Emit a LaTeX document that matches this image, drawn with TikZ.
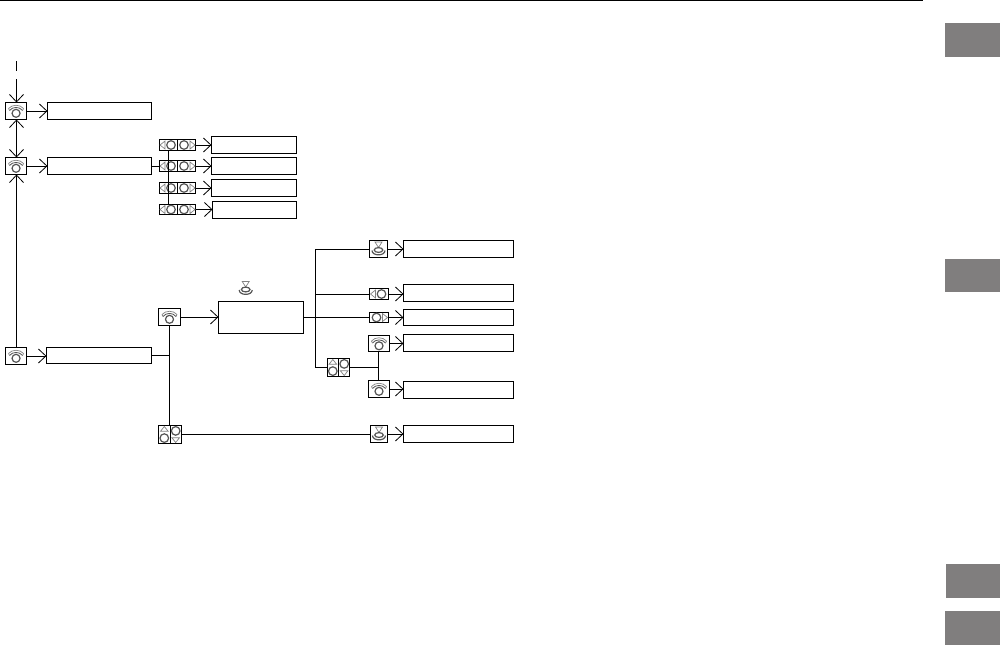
\documentclass[tikz,border=0pt]{standalone}
\usetikzlibrary{arrows.meta,calc}
\definecolor{tabgray}{RGB}{128,126,126}
\definecolor{glyph}{RGB}{85,85,85}
\definecolor{soft}{RGB}{130,130,130}
\tikzset{
  conn/.style={line width=1pt,black},
  arr/.style={conn,-{Straight Barb[length=7.5pt,width=14pt,line width=0.8pt]}},
  darr/.style={conn,{Straight Barb[length=7.5pt,width=14pt,line width=0.8pt]}-{Straight Barb[length=7.5pt,width=14pt,line width=0.8pt]}},
  lbl/.style={draw=black,line width=1pt,fill=white,inner sep=0pt,outer sep=0pt},
  iconbox/.style={draw=black,line width=1pt,fill=white,inner sep=0pt,outer sep=0pt},
  knobfree/.style={inner sep=0pt,outer sep=0pt},
  tab/.style={fill=tabgray,draw=none,inner sep=0pt,outer sep=0pt},
  gl/.style={draw=glyph,line width=1.2pt},
  gs/.style={draw=soft,line width=0.7pt}
}
% box from x0,y0 to x1,y1 (pixel coordinates)
\newcommand{\rbox}[6][lbl]{\node[#1,minimum width={(#5-#3)*1pt},minimum height={(#6-#4)*1pt}] (#2) at ({(#3+#5)/2},{(#4+#6)/2}) {};}
\newcommand{\gphone}[1]{\begin{scope}[shift={(#1.center)}]
  \draw[gl] (0,2.3) circle (4);
  \draw[gs] (-7.5,-2.5) .. controls (-4,-6.8) and (4,-6.8) .. (7.5,-2.5);
  \draw[gl,line width=0.8pt] (-6.5,-0.5) .. controls (-3.5,-4.6) and (3.5,-4.6) .. (6.5,-0.5);
  \draw[gs] (-7.5,-2.5) -- (-6.5,-0.5) (7.5,-2.5) -- (6.5,-0.5);
\end{scope}}
\newcommand{\gknob}[1]{\begin{scope}[shift={(#1.center)}]
  \draw[gs] (-3.5,-7) -- (3.5,-7) -- (0,-1.5) -- cycle;
  \draw[gl] (0,1) ellipse (4.3 and 2.4);
  \draw[gl] (-6.5,1.5) .. controls (-6.5,7.3) and (6.5,7.3) .. (6.5,1.5);
\end{scope}}
\newcommand{\gleft}[2]{\begin{scope}[shift={(#1.center)},xshift=#2 pt]
  \draw[gs] (-8.5,0) -- (-3.5,-4) -- (-3.5,4) -- cycle;
  \draw[gl] (2.5,0) circle (4.3);
\end{scope}}
\newcommand{\gright}[2]{\begin{scope}[shift={(#1.center)},xshift=#2 pt]
  \draw[gs] (8.5,0) -- (3.5,-4) -- (3.5,4) -- cycle;
  \draw[gl] (-2.5,0) circle (4.3);
\end{scope}}
\newcommand{\gupdown}[1]{\begin{scope}[shift={(#1.center)}]
  \draw[line width=1pt] (0,-9) -- (0,9);
  \draw[gs] (-9.5,-3.2) -- (-1.8,-3.2) -- (-5.7,-8) -- cycle;
  \draw[gl] (-5.7,3.6) circle (4.3);
  \draw[gs] (9.5,3.2) -- (1.8,3.2) -- (5.7,8) -- cycle;
  \draw[gl] (5.7,-3.6) circle (4.3);
\end{scope}}
\newcommand{\lrpair}[5]{\rbox[iconbox]{#1}{#2}{#3}{#4}{#5}
  \gleft{#1}{-9}\gright{#1}{9}\draw[line width=1pt] (#1.north) -- (#1.south);}
\begin{document}
\begin{tikzpicture}[x=1pt,y=-1pt]
\useasboundingbox (0,0) rectangle (1000,645);
% page furniture
\coordinate (ruleL) at (0,0.6);
\coordinate (ruleR) at (923,0.6);
\draw[line width=1.1pt] (ruleL) -- (ruleR);
\rbox[tab]{tabA}{945}{23}{1000}{57}
\rbox[tab]{tabB}{945}{258.5}{1000}{292}
\rbox[tab]{tabC}{945.5}{563.5}{1000}{598}
\rbox[tab]{tabD}{945}{611}{1000}{645}

% left column
\rbox[iconbox]{pA}{5.6}{102.5}{26.5}{119.5}\gphone{pA}
\rbox[iconbox]{pB}{5.6}{157.5}{26.5}{174.5}\gphone{pB}
\rbox[iconbox]{pC}{5.6}{347.5}{26.5}{364.5}\gphone{pC}
\rbox{bA}{47.5}{102.5}{151.5}{119.5}
\rbox{bB}{47.5}{157.5}{151.5}{174.5}
\rbox{bC}{46.5}{347.5}{151.5}{363.5}
\coordinate (d0) at (16.5,61);
\coordinate (d1) at (16.5,71);
\coordinate (d2) at (16.5,79);
\draw[conn] (d0) -- (d1);
\draw[arr] (d2) -- (d2 |- pA.north);
\draw[darr] (pA.south -| d2) -- (pB.north -| d2);
\draw[arr] (pC.north -| d2) -- (pB.south -| d2);
\draw[arr] (pA.east) -- (bA.west);
\draw[arr] (pB.east) -- (bB.west);
\draw[arr] (pC.east) -- (pC.east -| bC.west);

% left/right selector column
\lrpair{sA}{159.5}{139.5}{195.5}{150.5}
\lrpair{sB}{159.5}{160.5}{195.5}{171.5}
\lrpair{sC}{159.5}{182.5}{195.5}{193.5}
\lrpair{sD}{159.5}{204.5}{195.5}{214.5}
\rbox{tA}{211.5}{136.5}{296.5}{153.5}
\rbox{tB}{211.5}{157.5}{296.5}{174.5}
\rbox{tC}{211.5}{179.5}{296.5}{196.5}
\rbox{tD}{212.5}{201.5}{296.5}{218.5}
\draw[arr] (sA.east) -- (sA.east -| tA.west);
\draw[arr] (sB.east) -- (sB.east -| tB.west);
\draw[arr] (sC.east) -- (sC.east -| tC.west);
\draw[arr] (sD.east) -- (sD.east -| tD.west);
\coordinate (sv) at (168.5,150);
\draw[conn] (sv) -- (sv |- sD.north);
\draw[conn] (bB.east |- sB.west) -- (sB.west);

% middle
\rbox[iconbox]{pM}{158.5}{308.5}{180.5}{325.5}\gphone{pM}
\rbox{bM}{218.5}{301.5}{303.5}{333.5}
\rbox[iconbox]{uL}{158.5}{425.5}{181.5}{443.5}\gupdown{uL}
\node[knobfree,minimum width=16pt,minimum height=16pt] (kM) at (245.7,288.5) {};\gknob{kM}
\draw[arr] (pM.east) -- (pM.east -| bM.west);
\coordinate (jL) at (169.5,355.5);
\draw[conn] (pM.south -| jL) -- (uL.north -| jL);
\draw[conn] (bC.east |- jL) -- (jL);

% right column
\rbox[iconbox]{kA}{369.5}{240.5}{387.5}{257.5}\gknob{kA}
\rbox[iconbox]{iL}{369.5}{288.5}{388.5}{299.5}
\rbox[iconbox]{iR}{369.5}{312.5}{388.5}{322.5}
\gleft{iL}{0}
\gright{iR}{0}
\rbox[iconbox]{pR}{368.5}{335.5}{389.5}{351.5}\gphone{pR}
\rbox[iconbox]{pS}{368.5}{380.5}{389.5}{397.5}\gphone{pS}
\rbox[iconbox]{uR}{327.5}{358.5}{349.5}{376.5}\gupdown{uR}
\rbox[iconbox]{kB}{370.5}{425.5}{387.5}{442.5}\gknob{kB}
\rbox{rA}{403.5}{240.5}{513.5}{257.5}
\rbox{rB}{403.5}{284.5}{513.5}{301.5}
\rbox{rC}{403.5}{309.5}{513.5}{325.5}
\rbox{rD}{403.5}{334.5}{513.5}{351.5}
\rbox{rE}{403.5}{381.5}{513.5}{398.5}
\rbox{rF}{403.5}{425.5}{513.5}{442.5}
\draw[arr] (kA.east) -- (kA.east -| rA.west);
\draw[arr] (iL.east) -- (iL.east -| rB.west);
\draw[arr] (iR.east) -- (iR.east -| rC.west);
\draw[arr] (pR.east) -- (pR.east -| rD.west);
\draw[arr] (pS.east) -- (pS.east -| rE.west);
\draw[arr] (kB.east) -- (kB.east -| rF.west);
\coordinate (trunk) at (315.5,300);
\draw[conn] (kA.west) -- (kA.west -| trunk) -- (uR.west -| trunk) -- (uR.west);
\draw[conn] (iL.west) -- (iL.west -| trunk);
\draw[conn] (bM.east |- iR.west) -- (iR.west);
\draw[conn] (uL.east |- kB.west) -- (kB.west);
\coordinate (jR) at (378.5,300);
\draw[conn] (uR.east) -- (uR.east -| jR);
\draw[conn] (pR.south -| jR) -- (pS.north -| jR);
\end{tikzpicture}
\end{document}
